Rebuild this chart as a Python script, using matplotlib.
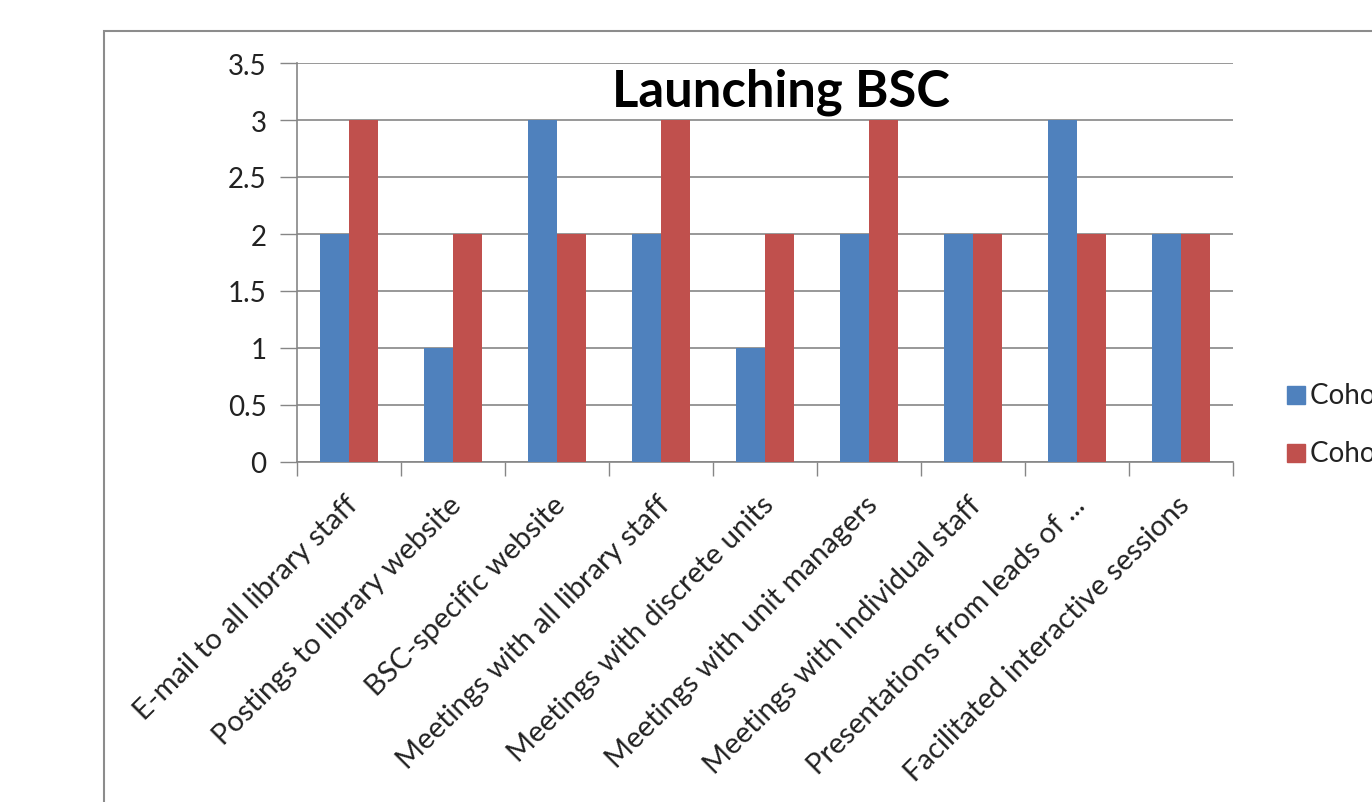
import numpy as np
import matplotlib
matplotlib.use("Agg")
import matplotlib.pyplot as plt
import matplotlib.transforms as mtransforms
from matplotlib.patches import Rectangle

# data
categories = ["E-mail to all library staff", "Postings to library website",
              "BSC-specific website", "Meetings with all library staff",
              "Meetings with discrete units", "Meetings with unit managers",
              "Meetings with individual staff", "Presentations from leads of ...",
              "Facilitated interactive sessions"]
cohort1 = [2, 1, 3, 2, 1, 2, 2, 3, 2]
cohort2 = [3, 2, 2, 3, 2, 3, 2, 2, 2]
series_names = ["Cohort 1", "Cohort 2"]
yticks = [0, 0.5, 1, 1.5, 2, 2.5, 3, 3.5]
ytick_labels = ["0", "0.5", "1", "1.5", "2", "2.5", "3", "3.5"]

BLUE = "#4F81BD"
RED = "#C0504D"
GRID = "#868686"
W, H = 1372, 803
FS = 20

plt.rcParams["font.family"] = ["Lato", "DejaVu Sans"]

fig = plt.figure(figsize=(W / 100, H / 100), dpi=100)
fig.patch.set_facecolor("white")

# chart box border (runs off the right and bottom edges)
fig.patches.append(Rectangle((104 / W, -0.2), 1.2, (803 - 32) / 803 + 0.2,
                             transform=fig.transFigure, fill=False,
                             edgecolor="#8c8c8c", lw=1.5))

ax = fig.add_axes([297 / W, (H - 463) / H, (1233 - 297) / W, (463 - 64) / H])
x = np.arange(len(categories))
bw = 0.275
ax.bar(x - bw / 2, cohort1, bw, color=BLUE, zorder=3)
ax.bar(x + bw / 2, cohort2, bw, color=RED, zorder=3)

ax.set_xlim(-0.5, len(categories) - 0.5)
ax.set_ylim(0, 3.5)
ax.set_yticks(yticks)
ax.set_yticklabels(ytick_labels, fontsize=FS, color="#222222")
ax.tick_params(axis="y", length=12, width=1, color=GRID, pad=10)
ax.yaxis.grid(True, color=GRID, lw=1.2, zorder=0)

ax.set_xticks(x)
ax.set_xticklabels([])
ax.tick_params(axis="x", which="major", length=0)
ax.set_xticks(np.arange(-0.5, len(categories)), minor=True)
ax.tick_params(axis="x", which="minor", length=10, width=1, color=GRID)

for s in ["top", "right"]:
    ax.spines[s].set_visible(False)
for s in ["left", "bottom"]:
    ax.spines[s].set_color(GRID)
    ax.spines[s].set_linewidth(1.2)

# rotated category labels, right end just under each category
offset = mtransforms.ScaledTranslation(10 / 100, -44 / 100, fig.dpi_scale_trans)
trans = ax.get_xaxis_transform() + offset
for xi, lab in zip(x, categories):
    ax.text(xi, 0, lab, transform=trans, rotation=45, rotation_mode="anchor",
            ha="right", va="baseline", fontsize=21, color="#222222")

fig.text(781 / W, (H - 107) / H, "Launching BSC", ha="center", va="baseline",
         fontsize=36.5, fontweight="bold", color="black")

# legend, cut off by the figure edge like the original
for name, col, yc in zip(series_names, [BLUE, RED], [396, 454]):
    fig.patches.append(Rectangle((1287 / W, (H - yc - 9) / H), 18 / W, 18 / H,
                                 transform=fig.transFigure, color=col))
    fig.text(1310 / W, (H - yc) / H, name, ha="left", va="center",
             fontsize=FS, color="#222222")

fig.savefig("out.png", dpi=100)
